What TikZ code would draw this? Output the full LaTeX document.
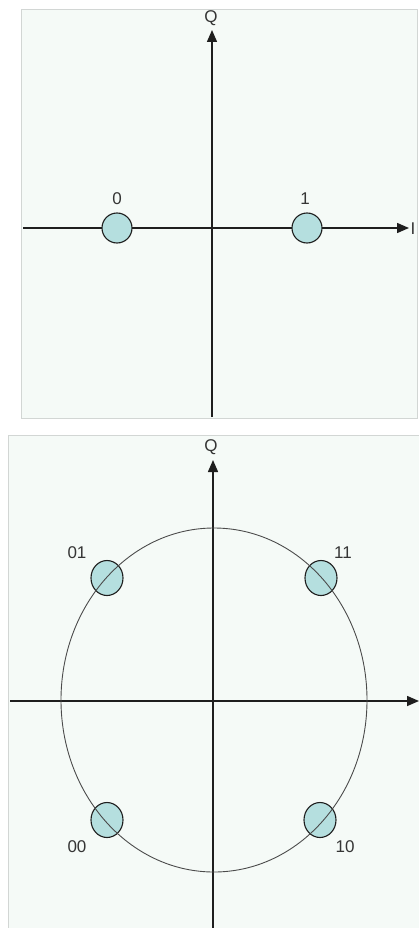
\documentclass[tikz,border=0pt]{standalone}
\usepackage{fontspec}
\setmainfont{Liberation Sans}
\usetikzlibrary{arrows.meta,shapes.geometric}
\definecolor{panelbg}{HTML}{F5FAF7}
\definecolor{panelframe}{HTML}{D2D6D4}
\definecolor{ptfill}{HTML}{B5DFDF}
\definecolor{inkc}{HTML}{1E1E1E}
\begin{document}
\begin{tikzpicture}[x=1pt,y=-1pt,
  panel/.style={fill=panelbg,draw=panelframe,line width=1pt},
  axis/.style={draw=inkc,line width=1.5pt,-{Triangle[length=12pt,width=10pt]}},
  pt/.style={circle,draw=inkc,fill=ptfill,line width=1.1pt,minimum size=30pt,inner sep=0pt},
  qpt/.style={ellipse,draw=inkc,fill=ptfill,line width=1.1pt,minimum width=32pt,minimum height=35pt,inner sep=0pt},
  lbl/.style={text=inkc!90,font=\fontsize{17}{17}\selectfont,inner sep=0pt},
  ring/.style={draw=inkc!80,line width=0.9pt}]
\useasboundingbox (0,0) rectangle (419,928);
% ---------- top panel ----------
\path[panel] (21,10) rectangle (417,418);
\coordinate (tq0) at (212,417);
\coordinate (tq1) at (212,30);
\coordinate (ti0) at (23,228);
\coordinate (ti1) at (409,228);
\draw[axis] (tq0) -- (tq1);
\draw[axis] (ti0) -- (ti1);
\node[lbl] (tQ) at (211,18) {Q};
\node[lbl] (tI) at (413,229) {I};
\node[pt] (p0) at (117,228) {};
\node[pt] (p1) at (307,228) {};
\node[lbl] (l0) at (117,199) {0};
\node[lbl] (l1) at (305,199) {1};
% ---------- bottom panel ----------
\path[panel] (8,435) rectangle (421,930);
\coordinate (bq0) at (213,928);
\coordinate (bq1) at (213,460);
\coordinate (bi0) at (10,701);
\coordinate (bi1) at (419,701);
\draw[axis] (bq0) -- (bq1);
\draw[axis] (bi0) -- (bi1);
\node[lbl] (bQ) at (211,447) {Q};
\node[qpt] (p01) at (107,578) {};
\node[qpt] (p11) at (321,578) {};
\node[qpt] (p00) at (107,820) {};
\node[qpt] (p10) at (320,820) {};
\coordinate (ctr) at (214,700);
\draw[ring] (ctr) ellipse [x radius=153pt, y radius=172pt];
\node[lbl] (l01) at (77,553) {01};
\node[lbl] (l11) at (343,553) {11};
\node[lbl] (l00) at (77,847) {00};
\node[lbl] (l10) at (345,847) {10};
\end{tikzpicture}
\end{document}
